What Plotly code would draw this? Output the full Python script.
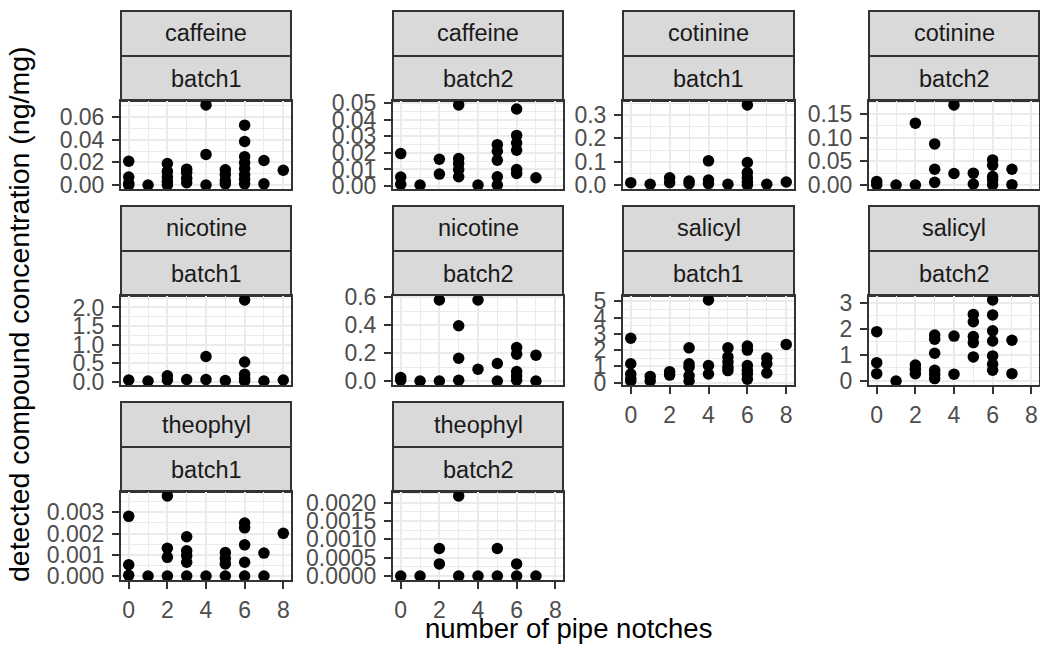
import plotly.graph_objects as go

# ---------------- data ----------------
compounds = ["caffeine", "caffeine", "cotinine", "cotinine", "nicotine",
             "nicotine", "salicyl", "salicyl", "theophyl", "theophyl"]
batches = ["batch1", "batch2", "batch1", "batch2", "batch1",
           "batch2", "batch1", "batch2", "batch1", "batch2"]

caffeine_b1_x = [0, 0, 0, 0, 1, 2, 2, 2, 2, 2, 3, 3, 3, 3, 4, 4, 4, 5, 5, 5, 5,
                 6, 6, 6, 6, 6, 6, 6, 6, 7, 7, 8]
caffeine_b1_y = [0.021, 0.007, 0.0015, 0.0, 0.0, 0.019, 0.012, 0.007, 0.003, 0.0,
                 0.014, 0.011, 0.006, 0.002, 0.0706, 0.027, 0.0,
                 0.0135, 0.009, 0.004, 0.001,
                 0.0528, 0.0384, 0.025, 0.0196, 0.0144, 0.009, 0.005, 0.001,
                 0.0216, 0.001, 0.013]

caffeine_b2_x = [0, 0, 0, 1, 2, 2, 3, 3, 3, 3, 3, 4, 5, 5, 5, 5, 5,
                 6, 6, 6, 6, 6, 6, 7]
caffeine_b2_y = [0.0196, 0.0054, 0.001, 0.0006, 0.0162, 0.0072,
                 0.049, 0.0166, 0.0136, 0.010, 0.0056, 0.0006,
                 0.025, 0.021, 0.0156, 0.0056, 0.0006,
                 0.0466, 0.0306, 0.026, 0.0216, 0.010, 0.0076, 0.005]

cotinine_b1_x = [0, 1, 2, 2, 3, 3, 4, 4, 4, 5, 6, 6, 6, 6, 6, 6, 7, 8]
cotinine_b1_y = [0.011, 0.004, 0.032, 0.011, 0.018, 0.007, 0.104, 0.022, 0.007,
                 0.004, 0.342, 0.097, 0.054, 0.032, 0.014, 0.001, 0.004, 0.014]

cotinine_b2_x = [0, 0, 1, 2, 2, 3, 3, 3, 4, 4, 5, 5, 6, 6, 6, 6, 6, 7, 7]
cotinine_b2_y = [0.0076, 0.0007, 0.0, 0.1306, 0.0, 0.0868, 0.0333, 0.0056,
                 0.169, 0.0243, 0.025, 0.002, 0.053, 0.0417, 0.018, 0.011,
                 0.0007, 0.0333, 0.0007]

nicotine_b1_x = [0, 1, 2, 2, 3, 4, 4, 5, 6, 6, 6, 6, 6, 7, 8]
nicotine_b1_y = [0.045, 0.02, 0.16, 0.045, 0.06, 0.68, 0.06, 0.03,
                 2.2, 0.53, 0.2, 0.09, 0.02, 0.02, 0.045]

nicotine_b2_x = [0, 0, 1, 2, 2, 3, 3, 3, 4, 4, 5, 5, 6, 6, 6, 6, 6, 7, 7]
nicotine_b2_y = [0.024, 0.005, 0.0, 0.58, 0.0, 0.396, 0.163, 0.005, 0.58, 0.084,
                 0.125, 0.0, 0.24, 0.192, 0.067, 0.036, 0.005, 0.185, 0.0]

salicyl_b1_x = [0, 0, 0, 0, 0, 1, 1, 2, 2, 3, 3, 3, 3, 3, 4, 4, 4,
                5, 5, 5, 5, 5, 6, 6, 6, 6, 6, 6, 7, 7, 7, 8]
salicyl_b1_y = [2.73, 1.16, 0.53, 0.25, 0.1, 0.38, 0.1, 0.67, 0.46,
                2.14, 1.16, 0.95, 0.42, 0.1, 5.08, 1.05, 0.53,
                2.14, 1.58, 1.26, 0.95, 0.74, 2.25, 2.0, 1.05, 0.74, 0.53, 0.21,
                1.51, 1.16, 0.59, 2.35]

salicyl_b2_x = [0, 0, 0, 1, 2, 2, 2, 3, 3, 3, 3, 3, 3, 4, 4,
                5, 5, 5, 5, 5, 6, 6, 6, 6, 6, 6, 6, 7, 7]
salicyl_b2_y = [1.89, 0.70, 0.28, 0.0, 0.61, 0.45, 0.28, 1.76, 1.6, 1.06, 0.41,
                0.26, 0.09, 1.72, 0.26, 2.55, 2.27, 1.70, 1.47, 0.92,
                3.1, 2.53, 1.92, 1.53, 0.96, 0.64, 0.41, 1.56, 0.28]

theophyl_b1_x = [0, 0, 0, 1, 2, 2, 2, 2, 3, 3, 3, 3, 3, 4, 5, 5, 5, 5,
                 6, 6, 6, 6, 6, 7, 7, 8]
theophyl_b1_y = [0.00281, 0.00053, 0.00003, 0.0, 0.00377, 0.00131, 0.00088, 0.0,
                 0.00185, 0.00119, 0.00096, 0.00065, 0.0, 0.0,
                 0.00111, 0.00083, 0.00057, 0.0,
                 0.0025, 0.00227, 0.00147, 0.00065, 0.0, 0.00108, 0.0, 0.00201]

theophyl_b2_x = [0, 1, 2, 2, 3, 3, 4, 5, 5, 6, 6, 7]
theophyl_b2_y = [0.0, 0.0, 0.00075, 0.00033, 0.00218, 0.0, 0.0, 0.00075, 0.0,
                 0.00033, 0.0, 0.0]

x_tick_values = [0, 2, 4, 6, 8]
y_tick_steps = [0.02, 0.01, 0.1, 0.05, 0.5, 0.2, 1, 1, 0.001, 0.0005]
y_tick_formats = [".2f", ".2f", ".1f", ".2f", ".1f", ".1f", "d", "d", ".3f", ".4f"]

x_title = "number of pipe notches"
y_title = "detected compound concentration (ng/mg)"

panel_x = [caffeine_b1_x, caffeine_b2_x, cotinine_b1_x, cotinine_b2_x,
           nicotine_b1_x, nicotine_b2_x, salicyl_b1_x, salicyl_b2_x,
           theophyl_b1_x, theophyl_b2_x]
panel_y = [caffeine_b1_y, caffeine_b2_y, cotinine_b1_y, cotinine_b2_y,
           nicotine_b1_y, nicotine_b2_y, salicyl_b1_y, salicyl_b2_y,
           theophyl_b1_y, theophyl_b2_y]

# ---------------- layout geometry (pixels) ----------------
W, H = 1040, 652
col_px = [(121, 291), (393, 563), (623, 794), (869, 1039)]
row_px = [(101, 189), (296, 385), (492, 580)]
strip_h = 45

FONT = "Liberation Sans, Arial, sans-serif"
TICK_FONT = dict(family=FONT, size=23, color="#4D4D4D")
STRIP_FONT = dict(family=FONT, size=23.5, color="#1A1A1A")
XTITLE_FONT = dict(family=FONT, size=27.5, color="#000000")
YTITLE_FONT = dict(family=FONT, size=28.5, color="#000000")
BORDER = "#333333"


def px2x(p):
    return p / W


def px2y(p):
    return 1 - p / H


fig = go.Figure()
layout = {}
shapes = []
annotations = []

for i in range(10):
    r, c = divmod(i, 4)
    x0, x1 = col_px[c]
    y0, y1 = row_px[r]
    k = "" if i == 0 else str(i + 1)
    fig.add_trace(go.Scatter(
        x=panel_x[i], y=panel_y[i], mode="markers",
        marker=dict(color="black", size=11.5, line=dict(width=0)),
        xaxis="x" + k, yaxis="y" + k, showlegend=False, cliponaxis=True,
        hoverinfo="x+y"))

    ys = panel_y[i]
    lo, hi = min(ys), max(ys)
    pad = 0.05 * (hi - lo)
    bottom = (r == 2) or (r == 1 and c >= 2)

    layout["xaxis" + k] = dict(
        domain=[px2x(x0), px2x(x1)], anchor="y" + k, automargin=False,
        range=[-0.4, 8.4], tickmode="array", tickvals=x_tick_values,
        showticklabels=bottom, ticks="outside" if bottom else "",
        ticklen=7, tickwidth=2, tickcolor=BORDER, tickfont=TICK_FONT,
        ticklabelstandoff=1,
        showgrid=True, gridcolor="#EBEBEB", gridwidth=2,
        minor=dict(dtick=1, tick0=0, showgrid=True, gridcolor="#EBEBEB",
                   gridwidth=1, ticks=""),
        showline=True, mirror=True, linecolor=BORDER, linewidth=2,
        zeroline=False, fixedrange=True)
    layout["yaxis" + k] = dict(
        domain=[px2y(y1), px2y(y0)], anchor="x" + k, automargin=False,
        range=[lo - pad, hi + pad], tickmode="linear", tick0=0,
        dtick=y_tick_steps[i], tickformat=y_tick_formats[i],
        ticks="outside", ticklen=7, tickwidth=2, tickcolor=BORDER,
        tickfont=TICK_FONT, ticklabelstandoff=3,
        showgrid=True, gridcolor="#EBEBEB", gridwidth=2,
        minor=dict(dtick=y_tick_steps[i] / 2, tick0=0, showgrid=True,
                   gridcolor="#EBEBEB", gridwidth=1, ticks=""),
        showline=True, mirror=True, linecolor=BORDER, linewidth=2,
        zeroline=False, fixedrange=True)

    for s, label in enumerate([compounds[i], batches[i]]):
        sy0 = y0 - strip_h * (2 - s)
        sy1 = sy0 + strip_h
        shapes.append(dict(type="rect", xref="paper", yref="paper",
                           x0=px2x(x0), x1=px2x(x1), y0=px2y(sy1), y1=px2y(sy0),
                           fillcolor="#D9D9D9", line=dict(color=BORDER, width=2),
                           layer="below"))
        annotations.append(dict(text=label, xref="paper", yref="paper",
                                x=px2x((x0 + x1) / 2), y=px2y((sy0 + sy1) / 2),
                                xanchor="center", yanchor="middle",
                                showarrow=False, font=STRIP_FONT))

annotations.append(dict(text=x_title, xref="paper", yref="paper",
                        x=px2x(568), y=px2y(628), xanchor="center",
                        yanchor="middle", showarrow=False, font=XTITLE_FONT))
annotations.append(dict(text=y_title, xref="paper", yref="paper",
                        x=px2x(19), y=px2y(314), xanchor="center",
                        yanchor="middle", showarrow=False, font=YTITLE_FONT,
                        textangle=-90))

fig.update_layout(
    template="none",
    width=W, height=H,
    margin=dict(l=0, r=0, t=0, b=0, pad=0, autoexpand=False),
    paper_bgcolor="white", plot_bgcolor="white",
    shapes=shapes, annotations=annotations, showlegend=False,
    font=dict(family=FONT), **layout)

fig.write_html("out.html")
